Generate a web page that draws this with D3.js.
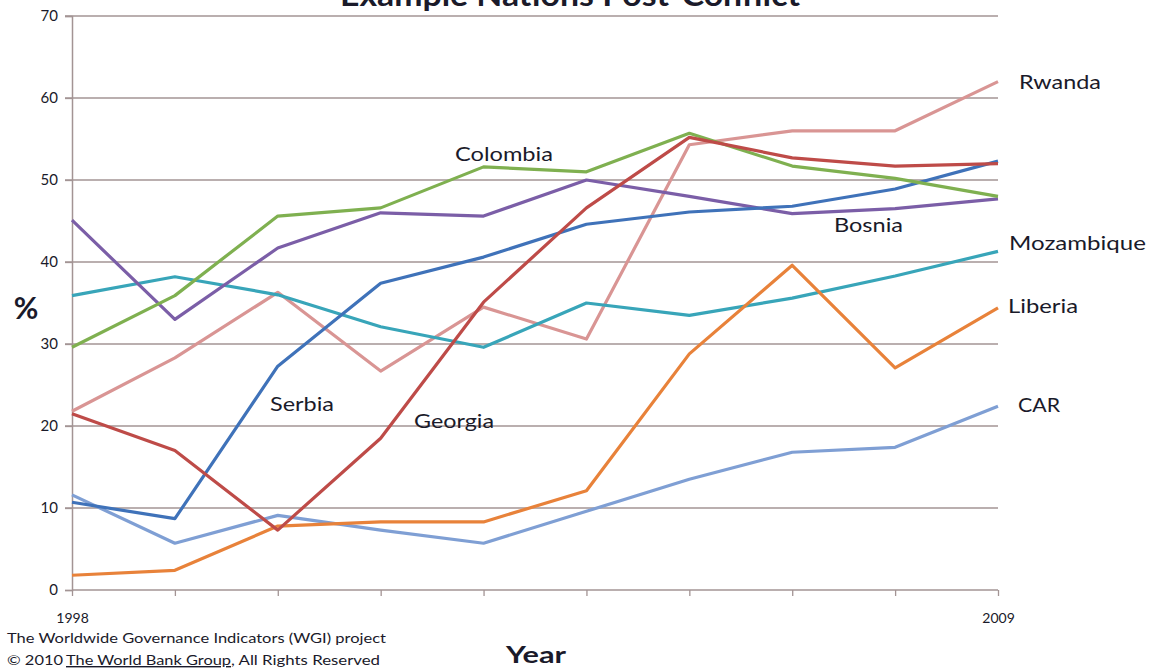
<!DOCTYPE html>
<html>
<head>
<meta charset="utf-8">
<title>Example Nations Post-Conflict</title>
<style type="text/css">
body { margin: 0; background: #fff; }
text { font-family: Lato, "Open Sans", sans-serif; fill: #1a1a2a; }
.grid line { stroke: #a39494; stroke-width: 1.3px; }
.line { fill: none; stroke-width: 3.2px; stroke-linejoin: round; }
</style>
<script src="https://cdn.jsdelivr.net/npm/d3@7"></script>
</head>
<body>
<svg width="1155" height="669"></svg>
<script type="text/javascript">

// years along x, only first and last are labelled
var years = ["1998", "2000", "2002", "2003", "2004", "2005", "2006", "2007", "2008", "2009"];
var yTicks = [0, 10, 20, 30, 40, 50, 60, 70];

var rwanda     = [21.8, 28.3, 36.3, 26.7, 34.5, 30.6, 54.3, 56.0, 56.0, 62.0];
var colombia   = [29.6, 35.9, 45.6, 46.6, 51.6, 51.0, 55.7, 51.7, 50.2, 48.0];
var bosnia     = [45.1, 33.0, 41.7, 46.0, 45.6, 50.0, 48.0, 45.9, 46.5, 47.7];
var serbia     = [10.7, 8.7, 27.3, 37.4, 40.6, 44.6, 46.1, 46.8, 48.9, 52.3];
var georgia    = [21.5, 17.0, 7.3, 18.5, 35.1, 46.6, 55.2, 52.7, 51.7, 52.0];
var mozambique = [35.9, 38.2, 36.0, 32.1, 29.6, 35.0, 33.5, 35.6, 38.3, 41.3];
var liberia    = [1.8, 2.4, 7.8, 8.3, 8.3, 12.1, 28.8, 39.6, 27.1, 34.4];
var car        = [11.6, 5.7, 9.1, 7.3, 5.7, 9.6, 13.5, 16.8, 17.4, 22.4];

// drawing order, colours and label spots
var series = [
  {name: "Rwanda",     values: rwanda,     color: "#d99594", lx: 1019, ly: 89,  lw: 82},
  {name: "Mozambique", values: mozambique, color: "#38a5b9", lx: 1009, ly: 250, lw: 137},
  {name: "CAR",        values: car,        color: "#7f9fd4", lx: 1018, ly: 412, lw: 42},
  {name: "Liberia",    values: liberia,    color: "#e8823a", lx: 1008, ly: 313, lw: 70},
  {name: "Bosnia",     values: bosnia,     color: "#7b5ea7", lx: 834,  ly: 232, lw: 69},
  {name: "Serbia",     values: serbia,     color: "#3f72b9", lx: 270,  ly: 411, lw: 64},
  {name: "Colombia",   values: colombia,   color: "#7fb050", lx: 455,  ly: 161, lw: 98},
  {name: "Georgia",    values: georgia,    color: "#be4b48", lx: 414,  ly: 428, lw: 80}
];

var svg = d3.select("svg");

var x = d3.scalePoint().domain(years).range([72, 998]);
var y = d3.scaleLinear().domain([0, 70]).range([590, 16]);

// horizontal grid
svg.append("g")
    .attr("class", "grid")
  .selectAll("line")
  .data(yTicks.slice(1))
  .enter().append("line")
    .attr("x1", 65).attr("x2", 998)
    .attr("y1", function(d) { return y(d); })
    .attr("y2", function(d) { return y(d); });

// y axis
var yAxis = svg.append("g")
    .attr("transform", "translate(72,0)")
    .call(d3.axisLeft(y).tickValues(yTicks).tickSize(7).tickPadding(7));
yAxis.select(".domain").attr("stroke", "#a39494").attr("stroke-width", 1.5);
yAxis.selectAll(".tick line").attr("stroke", "#a39494").attr("stroke-width", 1.3);
yAxis.selectAll(".tick text")
    .style("font-family", "Lato, sans-serif")
    .style("font-size", "15px")
    .attr("fill", "#2a2a33");

// x axis
var xAxis = svg.append("g")
    .attr("transform", "translate(0,590)")
    .call(d3.axisBottom(x).tickSize(6).tickPadding(17)
      .tickFormat(function(d, i) { return (i == 0 || i == years.length - 1) ? d : ""; }));
xAxis.select(".domain").attr("stroke", "#a39494").attr("stroke-width", 1.5)
    .attr("d", "M72,0H998");
xAxis.selectAll(".tick line").attr("stroke", "#a39494").attr("stroke-width", 1.3);
xAxis.selectAll(".tick text")
    .style("font-family", "Lato, sans-serif")
    .style("font-size", "14px")
    .attr("fill", "#222");

// lines
var line = d3.line()
    .x(function(d, i) { return x(years[i]); })
    .y(function(d) { return y(d); });

svg.append("g").selectAll(".line")
  .data(series)
  .enter().append("path")
    .attr("class", "line")
    .attr("stroke", function(d) { return d.color; })
    .attr("d", function(d) { return line(d.values); });

// country labels
svg.append("g").selectAll("text")
  .data(series)
  .enter().append("text")
    .attr("x", function(d) { return d.lx; })
    .attr("y", function(d) { return d.ly; })
    .attr("textLength", function(d) { return d.lw; })
    .attr("lengthAdjust", "spacingAndGlyphs")
    .style("font-size", "20px")
    .text(function(d) { return d.name; });

// title, cut off at top like the original
svg.append("text")
    .attr("x", 570).attr("y", 6)
    .attr("text-anchor", "middle")
    .attr("textLength", 460)
    .attr("lengthAdjust", "spacingAndGlyphs")
    .style("font-size", "30px").style("font-weight", "bold")
    .attr("fill", "#111")
    .text("Example Nations Post-Conflict");

svg.append("text")
    .attr("x", 26).attr("y", 319)
    .attr("text-anchor", "middle")
    .style("font-size", "30px").style("font-weight", "bold")
    .attr("fill", "#111")
    .text("%");

svg.append("text")
    .attr("x", 536).attr("y", 663)
    .attr("text-anchor", "middle")
    .attr("textLength", 60)
    .attr("lengthAdjust", "spacingAndGlyphs")
    .style("font-size", "23px").style("font-weight", "bold")
    .attr("fill", "#111")
    .text("Year");

// footer
svg.append("text")
    .attr("x", 7).attr("y", 643)
    .attr("textLength", 379)
    .attr("lengthAdjust", "spacingAndGlyphs")
    .style("font-size", "14px")
    .text("The Worldwide  Governance  Indicators  (WGI)  project");

svg.append("text")
    .attr("x", 7).attr("y", 665)
    .attr("textLength", 56)
    .attr("lengthAdjust", "spacingAndGlyphs")
    .style("font-size", "14px")
    .text("\u00a9 2010");

svg.append("text")
    .attr("x", 66).attr("y", 665)
    .attr("textLength", 165)
    .attr("lengthAdjust", "spacingAndGlyphs")
    .style("font-size", "14px")
    .style("text-decoration", "underline")
    .attr("fill", "#5b86c5")
    .text("The World Bank Group");

svg.append("text")
    .attr("x", 231).attr("y", 665)
    .attr("textLength", 149)
    .attr("lengthAdjust", "spacingAndGlyphs")
    .style("font-size", "14px")
    .text(", All Rights Reserved");

</script>
</body>
</html>
